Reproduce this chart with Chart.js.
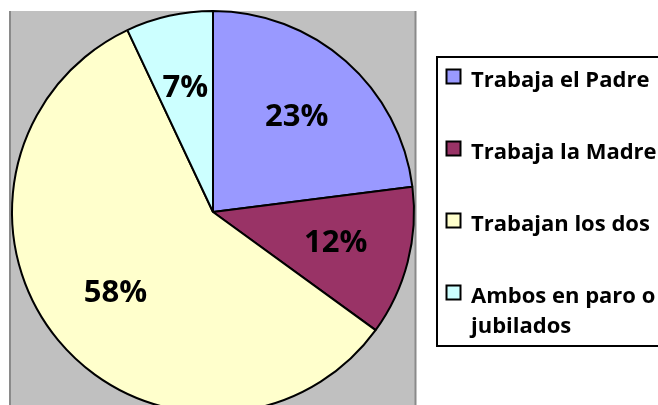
<!DOCTYPE html>
<html lang="es">
<head>
<meta charset="UTF-8">
<title>Situación laboral de los padres</title>
<script src="https://cdn.jsdelivr.net/npm/chart.js@4"></script>
<style>
  html, body { margin: 0; padding: 0; background: #fff; overflow: hidden; }
  #chart { display: block; }
</style>
</head>
<body>
<canvas id="chart" width="658" height="420"></canvas>
<script>
  // datos
  const labels = ['Trabaja el Padre', 'Trabaja la Madre', 'Trabajan los dos', ['Ambos en paro o', 'jubilados']];
  const values = [23, 12, 58, 7];
  const colors = ['#9999FF', '#993366', '#FFFFCC', '#CCFFFF'];

  const FONT = '"Open Sans", "Liberation Sans", sans-serif';

  // fondo gris del area del grafico
  const plotBackground = {
    id: 'plotBackground',
    beforeDraw(chart) {
      const ctx = chart.ctx;
      ctx.save();
      ctx.fillStyle = '#C0C0C0';
      ctx.fillRect(9, 11, 407, 420);
      ctx.strokeStyle = '#8A8A8A';
      ctx.lineWidth = 2;
      ctx.beginPath();
      ctx.moveTo(10, 11); ctx.lineTo(10, 420);
      ctx.moveTo(415.5, 11); ctx.lineTo(415.5, 420);
      ctx.stroke();
      ctx.restore();
    }
  };

  // porcentajes dentro de cada sector
  const sliceLabels = {
    id: 'sliceLabels',
    afterDatasetsDraw(chart) {
      const ctx = chart.ctx;
      const meta = chart.getDatasetMeta(0);
      const data = chart.data.datasets[0].data;
      const total = data.reduce((a, b) => a + b, 0);
      ctx.save();
      ctx.font = 'bold 31px ' + FONT;
      ctx.fillStyle = '#000';
      ctx.textAlign = 'center';
      ctx.textBaseline = 'middle';
      meta.data.forEach((arc, i) => {
        const p = arc.getProps(['x', 'y', 'startAngle', 'endAngle', 'outerRadius'], true);
        const mid = (p.startAngle + p.endAngle) / 2;
        const r = p.outerRadius * 0.63;
        const txt = Math.round(data[i] / total * 100) + '%';
        ctx.fillText(txt, p.x + Math.cos(mid) * r, p.y + Math.sin(mid) * r);
      });
      ctx.restore();
    }
  };

  // leyenda con marco a la derecha
  const boxLegend = {
    id: 'boxLegend',
    afterDraw(chart) {
      const ctx = chart.ctx;
      const ds = chart.data.datasets[0];
      ctx.save();
      ctx.strokeStyle = '#000';
      ctx.lineWidth = 2;
      ctx.fillStyle = '#fff';
      ctx.fillRect(437, 57, 240, 289);
      ctx.strokeRect(437, 57, 240, 289);

      ctx.font = 'bold 22px ' + FONT;
      ctx.textAlign = 'left';
      ctx.textBaseline = 'alphabetic';
      let y = 87;
      chart.data.labels.forEach((lab, i) => {
        const lines = Array.isArray(lab) ? lab : [lab];
        ctx.fillStyle = ds.backgroundColor[i];
        ctx.fillRect(446.5, y - 17.5, 14, 14);
        ctx.strokeRect(446.5, y - 17.5, 14, 14);
        ctx.fillStyle = '#000';
        lines.forEach((t, k) => ctx.fillText(t, 471, y + k * 30));
        y += 72;
      });
      ctx.restore();
    }
  };

  new Chart(document.getElementById('chart'), {
    type: 'pie',
    data: {
      labels: labels,
      datasets: [{
        data: values,
        backgroundColor: colors,
        borderColor: '#000',
        borderWidth: 2
      }]
    },
    options: {
      responsive: false,
      animation: false,
      layout: { padding: { left: 11, right: 243, top: 10, bottom: 6 } },
      plugins: {
        legend: { display: false },
        tooltip: { enabled: false }
      }
    },
    plugins: [plotBackground, sliceLabels, boxLegend]
  });
</script>
</body>
</html>
